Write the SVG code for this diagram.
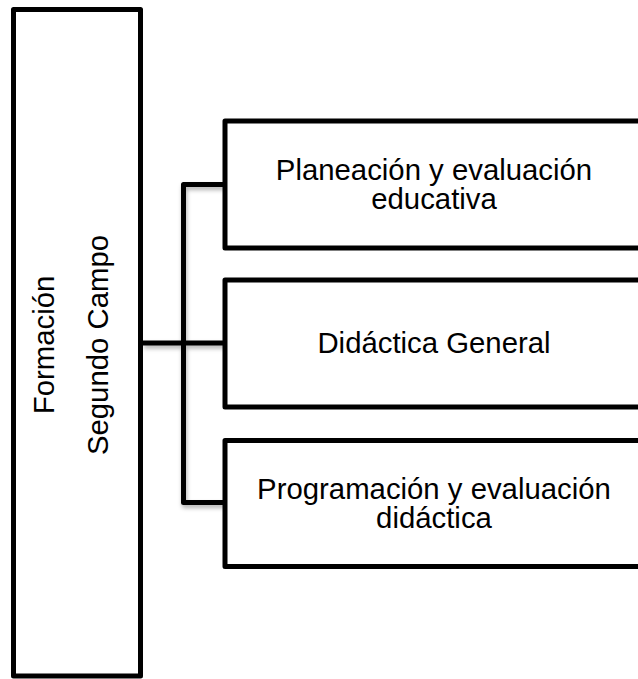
<svg xmlns="http://www.w3.org/2000/svg" width="638" height="679" viewBox="0 0 638 679">
  <style>
    .box { fill: #ffffff; stroke: #000000; stroke-width: 5; stroke-linejoin: round; }
    .conn { fill: none; stroke: #000000; stroke-width: 5; stroke-linejoin: round; }
    .lbl { font-family: "Liberation Sans", Arial, sans-serif; font-size: 29.33px; fill: #000000; text-anchor: middle; }
  </style>
  <defs>
    <filter id="sh" x="-20%" y="-20%" width="140%" height="140%">
      <feDropShadow dx="1" dy="3" stdDeviation="2" flood-color="#000" flood-opacity="0.3"/>
    </filter>
  </defs>
  <rect width="638" height="679" fill="#ffffff"/>
  <g id="connectors" filter="url(#sh)">
    <path class="conn" d="M225,184.5 H183.5 V502.5 H225"/>
    <path class="conn" d="M143,343 H225"/>
  </g>
  <g id="formacion">
    <rect class="box" x="13.5" y="9.5" width="127" height="666.5"/>
    <text class="lbl" transform="translate(53.5,345) rotate(-90)">Formación</text>
    <text class="lbl" transform="translate(108,345) rotate(-90)">Segundo Campo</text>
  </g>
  <g id="planeacion">
    <rect class="box" x="225" y="121" width="420" height="127"/>
    <text class="lbl" x="434" y="180">Planeación y evaluación</text>
    <text class="lbl" x="434" y="208.5">educativa</text>
  </g>
  <g id="didactica">
    <rect class="box" x="225" y="280" width="420" height="127"/>
    <text class="lbl" x="434" y="352.5">Didáctica General</text>
  </g>
  <g id="programacion">
    <rect class="box" x="225" y="440.5" width="420" height="126"/>
    <text class="lbl" x="434" y="498.5">Programación y evaluación</text>
    <text class="lbl" x="434" y="527.5">didáctica</text>
  </g>
</svg>
